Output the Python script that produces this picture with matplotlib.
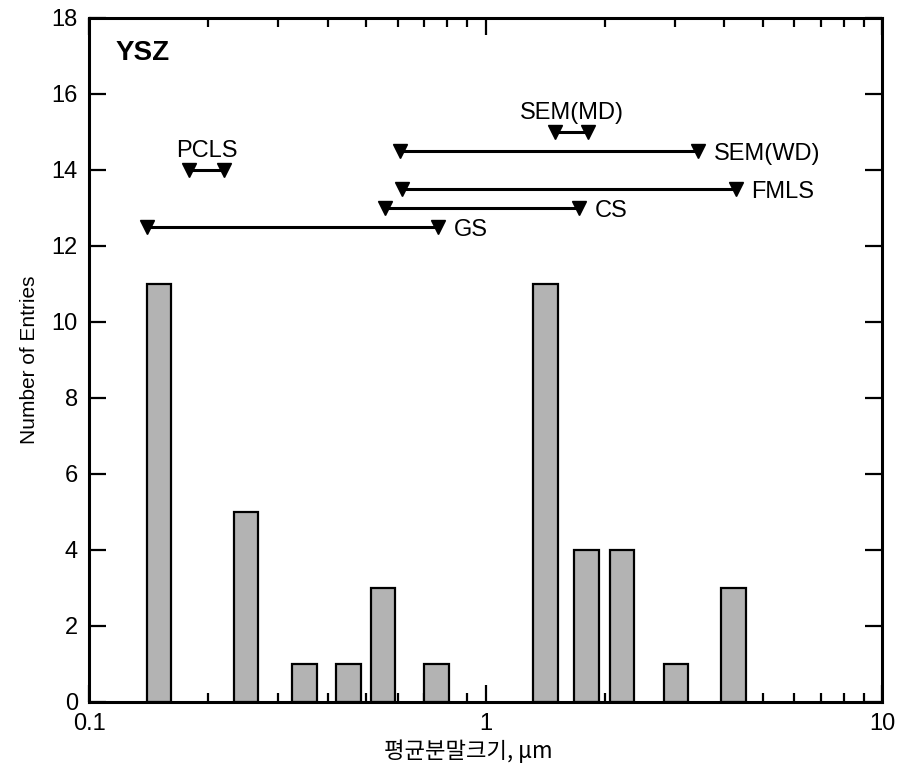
import numpy as np
import matplotlib.pyplot as plt

plt.rcParams['font.family'] = ['Liberation Sans', 'DejaVu Sans']

# histogram bars (geometric centres, counts)
bar_x = [0.150, 0.249, 0.349, 0.452, 0.552, 0.752, 1.415, 1.80, 2.21, 3.02, 4.22]
bar_n = [11, 5, 1, 1, 3, 1, 11, 4, 4, 1, 3]
bar_w_dec = 0.062  # bar width in decades

# measurement ranges: name, y level, low, high
rng_names = ['GS', 'CS', 'FMLS', 'PCLS', 'SEM(WD)', 'SEM(MD)']
rng_y = [12.5, 13.0, 13.5, 14.0, 14.5, 15.0]
rng_lo = [0.140, 0.558, 0.617, 0.179, 0.609, 1.497]
rng_hi = [0.760, 1.721, 4.276, 0.219, 3.441, 1.817]

fig = plt.figure(figsize=(8.99, 7.64), dpi=100)
ax = fig.add_axes([0.099, 0.0812, 0.8821, 0.8953])
ax.set_xscale('log')

bx = np.array(bar_x)
left = bx * 10 ** (-bar_w_dec / 2)
width = bx * 10 ** (bar_w_dec / 2) - left
ax.bar(left, bar_n, width=width, align='edge', color='#b3b3b3',
       edgecolor='black', linewidth=1.6, zorder=2)

for name, y, lo, hi in zip(rng_names, rng_y, rng_lo, rng_hi):
    ax.plot([lo, hi], [y, y], color='black', lw=2.2, zorder=3)
    ax.plot([lo, hi], [y, y], ls='', marker='v', ms=10, color='black', zorder=4)
    if name in ('PCLS', 'SEM(MD)'):
        ax.annotate(name, (np.sqrt(lo * hi), y), xytext=(0, 14),
                    textcoords='offset points', ha='center', va='center', fontsize=17)
    else:
        ax.annotate(name, (hi, y), xytext=(11, -2.5),
                    textcoords='offset points', ha='left', va='center', fontsize=17)

ax.text(0.033, 0.949, 'YSZ', transform=ax.transAxes, fontsize=20,
        fontweight='bold', ha='left', va='center')

ax.set_xlim(0.1, 10)
ax.set_ylim(0, 18)
ax.set_yticks(np.arange(0, 19, 2))
ax.set_xticks([0.1, 1, 10])
ax.set_xticklabels(['0.1', '1', '10'])
ax.tick_params(which='both', direction='in', top=True, right=True, labelsize=17)
ax.tick_params(which='major', length=12, width=1.6)
ax.tick_params(which='minor', length=6.5, width=1.6)
ax.tick_params(axis='y', which='minor', left=False, right=False)
ax.tick_params(axis='y', pad=8)
ax.tick_params(axis='x', pad=8)
for s in ax.spines.values():
    s.set_linewidth(2.2)

ax.set_ylabel('Number of Entries', fontsize=15, labelpad=9)
ax.set_xlabel('평균분말크기, μm', fontsize=16, labelpad=3, x=0.478,
              family=['Noto Sans CJK KR', 'DejaVu Sans'])

fig.savefig('out.png', dpi=100)
